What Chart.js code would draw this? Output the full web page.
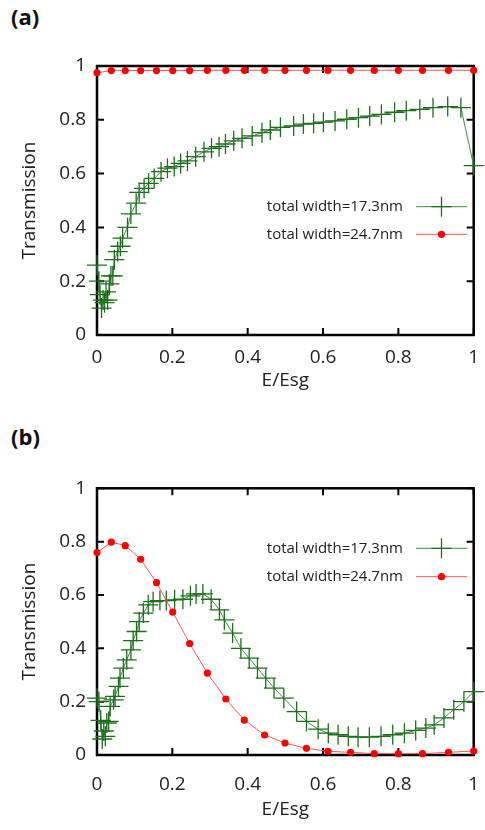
<!DOCTYPE html>
<html>
<head>
<meta charset="utf-8">
<script src="https://cdn.jsdelivr.net/npm/chart.js@4.4.1/dist/chart.umd.min.js"></script>
<style>
  body { margin: 0; background: #fff; }
  #wrap { position: relative; width: 485px; height: 830px; font-family: "Open Sans", sans-serif; }
  .panel { position: absolute; left: 0; width: 485px; height: 415px; }
  .tag { position: absolute; left: 11px; font-weight: bold; font-size: 22px; color: #111; }
</style>
</head>
<body>
<div id="wrap">
  <div class="tag" style="top:1px">(a)</div>
  <div class="panel" style="top:0"><canvas id="chartA" width="485" height="415"></canvas></div>
  <div class="tag" style="top:421px">(b)</div>
  <div class="panel" style="top:415px"><canvas id="chartB" width="485" height="415"></canvas></div>
</div>
<script>
// tick values and labels shared by both axes
const tickLabels = ['0', '0.2', '0.4', '0.6', '0.8', '1'];

// red series (total width = 24.7nm) share the same energy grid
const redX = [0, 0.038, 0.075, 0.116, 0.158, 0.201, 0.246, 0.293, 0.342, 0.391,
  0.445, 0.499, 0.556, 0.613, 0.673, 0.736, 0.8, 0.864, 0.933, 1.0];
const redA = [0.975, 0.983, 0.983, 0.983, 0.983, 0.983, 0.983, 0.984, 0.984, 0.984,
  0.984, 0.984, 0.984, 0.984, 0.984, 0.984, 0.984, 0.984, 0.984, 0.984];
const redB = [0.759, 0.798, 0.785, 0.734, 0.646, 0.536, 0.418, 0.307, 0.21, 0.131,
  0.075, 0.045, 0.025, 0.014, 0.01, 0.005, 0.005, 0.005, 0.01, 0.015];

// green series (total width = 17.3nm), panel (a)
const greenAX = [0, 0.005, 0.008, 0.012, 0.016, 0.02, 0.024, 0.028, 0.033, 0.037,
  0.042, 0.046, 0.055, 0.062, 0.068, 0.081, 0.09, 0.104, 0.112, 0.125,
  0.137, 0.152, 0.17, 0.187, 0.205, 0.222, 0.24, 0.262, 0.284, 0.304,
  0.324, 0.341, 0.363, 0.385, 0.412, 0.438, 0.46, 0.487, 0.522, 0.548,
  0.575, 0.601, 0.632, 0.663, 0.694, 0.724, 0.755, 0.79, 0.821, 0.857,
  0.892, 0.931, 0.966, 1.0];
const greenAY = [0.26, 0.20, 0.15, 0.10, 0.13, 0.12, 0.16, 0.13, 0.19, 0.22,
  0.22, 0.28, 0.31, 0.33, 0.36, 0.40, 0.45, 0.49, 0.53, 0.545,
  0.564, 0.582, 0.607, 0.62, 0.626, 0.638, 0.647, 0.663, 0.681, 0.694,
  0.70, 0.71, 0.722, 0.731, 0.74, 0.752, 0.762, 0.772, 0.777, 0.784,
  0.787, 0.791, 0.796, 0.802, 0.808, 0.814, 0.82, 0.828, 0.834, 0.839,
  0.845, 0.849, 0.845, 0.63];

// green series, panel (b)
const greenBX = [0, 0.005, 0.01, 0.014, 0.018, 0.022, 0.026, 0.031, 0.035, 0.044,
  0.048, 0.057, 0.061, 0.07, 0.079, 0.09, 0.096, 0.105, 0.112, 0.123,
  0.136, 0.149, 0.167, 0.184, 0.206, 0.228, 0.248, 0.263, 0.281, 0.303,
  0.325, 0.338, 0.36, 0.382, 0.404, 0.426, 0.448, 0.47, 0.496, 0.53,
  0.556, 0.587, 0.614, 0.64, 0.667, 0.693, 0.723, 0.754, 0.785, 0.816,
  0.846, 0.873, 0.895, 0.921, 0.947, 0.974, 1.0];
const greenBY = [0.213, 0.20, 0.13, 0.06, 0.09, 0.07, 0.12, 0.126, 0.182, 0.207,
  0.22, 0.257, 0.288, 0.326, 0.357, 0.394, 0.429, 0.463, 0.50, 0.532,
  0.563, 0.575, 0.579, 0.579, 0.582, 0.584, 0.597, 0.604, 0.604, 0.584,
  0.544, 0.507, 0.457, 0.40, 0.363, 0.326, 0.288, 0.251, 0.213, 0.163,
  0.126, 0.097, 0.082, 0.076, 0.07, 0.067, 0.067, 0.07, 0.076, 0.082,
  0.092, 0.101, 0.113, 0.139, 0.17, 0.2, 0.238];

const seriesNames = ['total width=17.3nm', 'total width=24.7nm'];

function toPoints(xs, ys) {
  return xs.map((x, i) => ({ x: x, y: ys[i] }));
}

// gnuplot style frame with inward ticks on all four sides
const framePlugin = {
  id: 'frame',
  beforeDatasetsDraw(chart) {
    const { ctx, chartArea: a, scales } = chart;
    ctx.save();
    ctx.strokeStyle = '#000';
    ctx.lineWidth = 2.5;
    ctx.strokeRect(a.left, a.top, a.right - a.left, a.bottom - a.top);
    ctx.lineWidth = 2;
    ctx.beginPath();
    scales.x.ticks.forEach(t => {
      const px = scales.x.getPixelForValue(t.value);
      ctx.moveTo(px, a.bottom); ctx.lineTo(px, a.bottom - 7);
      ctx.moveTo(px, a.top); ctx.lineTo(px, a.top + 7);
    });
    scales.y.ticks.forEach(t => {
      const py = scales.y.getPixelForValue(t.value);
      ctx.moveTo(a.left, py); ctx.lineTo(a.left + 7, py);
      ctx.moveTo(a.right, py); ctx.lineTo(a.right - 7, py);
    });
    ctx.stroke();
    ctx.restore();
  }
};

// key with the text on the left and the line sample on the right
const keyPlugin = {
  id: 'key',
  afterDatasetsDraw(chart, args, opts) {
    const ctx = chart.ctx;
    chart.data.datasets.forEach((ds, i) => {
      const y = opts.rows[i];
      const mid = (opts.lineStart + opts.lineEnd) / 2;
      ctx.save();
      ctx.font = '15px "Open Sans"';
      ctx.fillStyle = '#222';
      ctx.textAlign = 'right';
      ctx.textBaseline = 'middle';
      ctx.fillText(ds.label, opts.textRight, y);
      ctx.strokeStyle = ds.borderColor;
      ctx.lineWidth = 1;
      ctx.beginPath();
      ctx.moveTo(opts.lineStart, y);
      ctx.lineTo(opts.lineEnd, y);
      ctx.stroke();
      if (ds.pointStyle === 'cross') {
        const r = ds.pointRadius;
        ctx.strokeStyle = ds.pointBorderColor;
        ctx.lineWidth = ds.pointBorderWidth;
        ctx.beginPath();
        ctx.moveTo(mid - r, y); ctx.lineTo(mid + r, y);
        ctx.moveTo(mid, y - r); ctx.lineTo(mid, y + r);
        ctx.stroke();
      } else {
        ctx.fillStyle = ds.pointBackgroundColor;
        ctx.beginPath();
        ctx.arc(mid, y, ds.pointRadius, 0, Math.PI * 2);
        ctx.fill();
      }
      ctx.restore();
    });
  }
};

function makePanel(id, green, red, g) {
  const ctx = document.getElementById(id);
  return new Chart(ctx, {
    type: 'line',
    data: {
      datasets: [
        {
          label: seriesNames[0],
          data: green,
          order: 2,
          borderColor: '#3f913f',
          borderWidth: 1,
          pointStyle: 'cross',
          pointRadius: 10,
          pointBorderColor: '#1d6e1d',
          pointBorderWidth: 1.3,
          pointBackgroundColor: 'transparent',
          tension: 0,
          clip: false
        },
        {
          label: seriesNames[1],
          data: red,
          order: 1,
          borderColor: '#ff5555',
          borderWidth: 1,
          pointStyle: 'circle',
          pointRadius: 3.6,
          pointBorderWidth: 0,
          pointBackgroundColor: '#ff0000',
          pointBorderColor: '#ff0000',
          tension: 0,
          clip: false
        }
      ]
    },
    options: {
      responsive: false,
      animation: false,
      events: [],
      layout: { padding: { left: 0, right: g.right, top: g.top, bottom: 0 } },
      plugins: {
        legend: { display: false },
        tooltip: { enabled: false },
        key: { rows: g.rows, textRight: 403, lineStart: 416, lineEnd: 467 }
      },
      scales: {
        x: {
          type: 'linear',
          min: 0,
          max: 1,
          afterFit: s => { s.height = g.xAxisH; s.paddingLeft = 0; s.paddingRight = 0; },
          grid: { display: false, drawTicks: false },
          border: { display: false },
          ticks: {
            stepSize: 0.2,
            padding: g.xTickPad,
            maxRotation: 0,
            color: '#222',
            font: { family: 'Open Sans', size: 19 },
            callback: (v, i) => tickLabels[i]
          },
          title: {
            display: true,
            text: 'E/Esg',
            color: '#222',
            font: { family: 'Open Sans', size: 19 },
            padding: { top: 0, bottom: g.xTitlePad }
          }
        },
        y: {
          min: 0,
          max: 1,
          afterFit: s => { s.width = 97; },
          grid: { display: false, drawTicks: false },
          border: { display: false },
          ticks: {
            stepSize: 0.2,
            padding: 11,
            color: '#222',
            font: { family: 'Open Sans', size: 19 },
            callback: (v, i) => tickLabels[i]
          },
          title: {
            display: true,
            text: 'Transmission',
            color: '#222',
            font: { family: 'Open Sans', size: 19 },
            padding: { top: 18, bottom: 0 }
          }
        }
      }
    },
    plugins: [framePlugin, keyPlugin]
  });
}

makePanel('chartA', toPoints(greenAX, greenAY), toPoints(redX, redA),
  { top: 66, right: 8.5, xAxisH: 80, xTickPad: 11, xTitlePad: 23, rows: [206.7, 234.3] });
makePanel('chartB', toPoints(greenBX, greenBY), toPoints(redX, redB),
  { top: 73.3, right: 8, xAxisH: 75, xTickPad: 18, xTitlePad: 9, rows: [133.3, 161.7] });
</script>
</body>
</html>
